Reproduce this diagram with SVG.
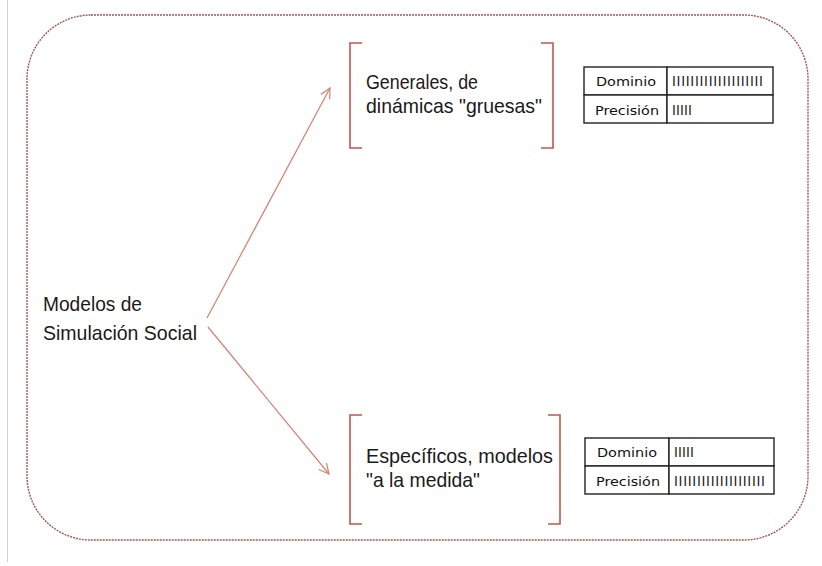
<svg xmlns="http://www.w3.org/2000/svg" width="822" height="566" viewBox="0 0 822 566">
<defs>
<style>
.lbl{font-family:"Liberation Sans Narrow","Liberation Sans",Arial,sans-serif;font-size:21px;fill:#1a1a1a}
.tb{font-family:"DejaVu Sans Condensed","DejaVu Sans",sans-serif;font-size:13px;fill:#111}
.bar{font-family:"Liberation Sans",Arial,sans-serif;font-size:14px;fill:#222}
.cell{fill:#fff;stroke:#222;stroke-width:1.4}
.brk{fill:none;stroke:#c0574e;stroke-width:1.6}
.conn{fill:none;stroke:#d6806f;stroke-width:1.2}
</style>
<marker id="arr" viewBox="0 0 12 12" refX="11" refY="6" markerWidth="12" markerHeight="12" markerUnits="userSpaceOnUse" orient="auto">
<path d="M1,1 L11,6 L1,11" fill="none" stroke="#d6806f" stroke-width="1.2"/>
</marker>
</defs>
<rect width="822" height="566" fill="#fff"/>
<line x1="7.5" y1="0" x2="7.5" y2="562" stroke="#d0d0d0" stroke-width="1"/>
<rect id="frame" x="27" y="15" width="781" height="525" rx="64" ry="64" fill="none" stroke="#9c5a55" stroke-width="1.4" stroke-dasharray="2,1"/>
<g id="connectors">
<line class="conn" x1="207" y1="318" x2="330" y2="88" marker-end="url(#arr)"/>
<line class="conn" x1="208" y1="327" x2="329" y2="474" marker-end="url(#arr)"/>
</g>
<g id="root">
<text class="lbl" x="43" y="311" textLength="99" lengthAdjust="spacingAndGlyphs">Modelos de</text>
<text class="lbl" x="43" y="340" textLength="154" lengthAdjust="spacingAndGlyphs">Simulación Social</text>
</g>
<g id="generales">
<path class="brk" d="M362,43 H350 V148 H362"/>
<path class="brk" d="M541,43 H553 V148 H541"/>
<text class="lbl" x="366" y="89" textLength="112" lengthAdjust="spacingAndGlyphs">Generales, de</text>
<text class="lbl" x="366" y="113" textLength="176" lengthAdjust="spacingAndGlyphs">dinámicas "gruesas"</text>
</g>
<g id="especificos">
<path class="brk" d="M362,415 H350 V524 H362"/>
<path class="brk" d="M548,415 H560 V524 H548"/>
<text class="lbl" x="366" y="463" textLength="187" lengthAdjust="spacingAndGlyphs">Específicos, modelos</text>
<text class="lbl" x="366" y="487" textLength="114" lengthAdjust="spacingAndGlyphs">"a la medida"</text>
</g>
<g id="tabla-generales">
<rect class="cell" x="584" y="67" width="83" height="28"/>
<rect class="cell" x="667" y="67" width="106" height="28"/>
<rect class="cell" x="584" y="95" width="83" height="28"/>
<rect class="cell" x="667" y="95" width="106" height="28"/>
<text class="tb" x="596" y="86" textLength="60" lengthAdjust="spacingAndGlyphs">Dominio</text>
<text class="tb" x="595" y="115" textLength="64" lengthAdjust="spacingAndGlyphs">Precisión</text>
<text class="bar" x="672" y="86" textLength="91" lengthAdjust="spacing">IIIIIIIIIIIIIIIIIIII</text>
<text class="bar" x="672" y="115" textLength="20" lengthAdjust="spacing">IIIII</text>
</g>
<g id="tabla-especificos">
<rect class="cell" x="585" y="438" width="84" height="28"/>
<rect class="cell" x="669" y="438" width="105" height="28"/>
<rect class="cell" x="585" y="466" width="84" height="28"/>
<rect class="cell" x="669" y="466" width="105" height="28"/>
<text class="tb" x="597" y="457" textLength="60" lengthAdjust="spacingAndGlyphs">Dominio</text>
<text class="tb" x="596" y="486" textLength="64" lengthAdjust="spacingAndGlyphs">Precisión</text>
<text class="bar" x="674" y="457" textLength="20" lengthAdjust="spacing">IIIII</text>
<text class="bar" x="674" y="486" textLength="91" lengthAdjust="spacing">IIIIIIIIIIIIIIIIIIII</text>
</g>
</svg>
